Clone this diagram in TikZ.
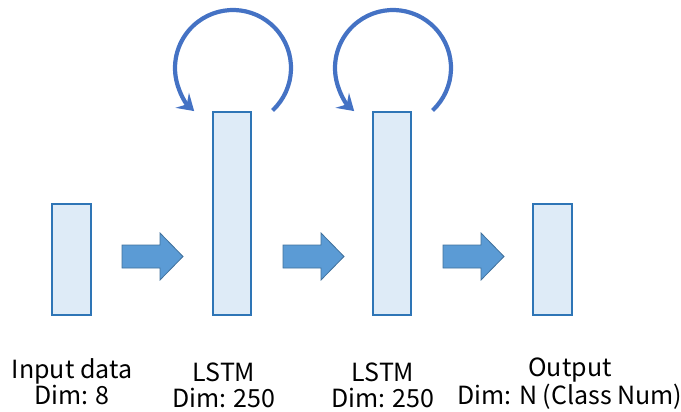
\documentclass[tikz,border=0pt]{standalone}
\usepackage{fontspec}
\setmainfont{Noto Sans CJK SC}
\usetikzlibrary{arrows.meta}
\definecolor{boxfill}{HTML}{DEEBF7}
\definecolor{boxline}{HTML}{2E75B6}
\definecolor{arrfill}{HTML}{5B9BD5}
\definecolor{arrline}{HTML}{41719C}
\definecolor{loopcol}{HTML}{4472C4}
\begin{document}
\begin{tikzpicture}[x=1pt,y=-1pt,
  layer/.style={draw=boxline,fill=boxfill,line width=1.6pt},
  blockarrow/.style={draw=arrline,fill=arrfill,line width=0.8pt},
  lbl/.style={align=center,font=\fontsize{25}{26}\selectfont,inner sep=0pt,anchor=base},
  loop/.style={draw=loopcol,line width=4.2pt,-{Stealth[length=16pt,width=20pt,inset=6pt]}}]
\useasboundingbox (0,0) rectangle (681,412);
% layers
\draw[layer] (52,204) rectangle (91,315);
\draw[layer] (213,112) rectangle (251,315);
\draw[layer] (373,112) rectangle (411,315);
\draw[layer] (533,204) rectangle (572,315);
% block arrows
\foreach \x in {122,283,443}{
  \draw[blockarrow] (\x,245) -- (\x+38,245) -- (\x+38,233) -- (\x+61,256.5) -- (\x+38,280) -- (\x+38,268) -- (\x,268) -- cycle;
}
% loops
\foreach \c in {233,393}{
  \draw[loop] ([shift={(47:58)}]\c,68) arc[start angle=47,end angle=-228,radius=58];
}
% labels (anchor = baseline of last line)
\node[lbl] (t1) at (72,404) {Input data\\Dim: 8};
\node[lbl] (t2) at (224,407) {LSTM\\Dim: 250};
\node[lbl] (t3) at (383,407) {LSTM\\Dim: 250};
\node[lbl] (t4) at (570,404) {Output\\Dim: N (Class Num)};
\end{tikzpicture}
\end{document}
